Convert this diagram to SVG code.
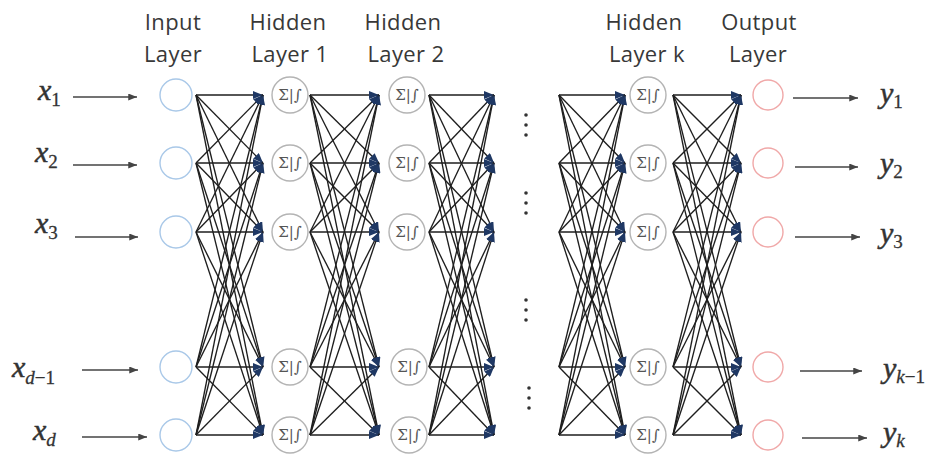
<svg xmlns="http://www.w3.org/2000/svg" width="938" height="456" viewBox="0 0 938 456">
<style>
.h{font-family:"Open Sans","Liberation Sans",sans-serif;font-size:22px;letter-spacing:0.4px;fill:#383838;text-anchor:middle}
.m{font-family:"Liberation Serif","DejaVu Serif",serif;font-style:italic;font-size:30px;fill:#333;stroke:#333;stroke-width:0.5}
.s{font-size:19px;stroke-width:0.3}
.n{font-style:normal}
.in{fill:#fff;stroke:#a9c8e8;stroke-width:1.4}
.out{fill:#fff;stroke:#f0a8a8;stroke-width:1.4}
.hid{fill:#fff;stroke:#b4b4b4;stroke-width:1.4}
.sg{font-family:"DejaVu Serif","Liberation Serif",serif;font-size:15px;fill:#555;text-anchor:middle}
.c line{stroke:#1e1e1e;stroke-width:1.35;marker-end:url(#ah)}
.io{stroke:#444;stroke-width:1.6;marker-end:url(#ia)}
.dot{fill:#333}
</style>
<defs>
<marker id="ah" viewBox="0 0 10 8" refX="10" refY="4" markerWidth="10" markerHeight="8" markerUnits="userSpaceOnUse" orient="auto"><path d="M0,0 L10,4 L0,8 z" fill="#1f3864"/></marker>
<marker id="ia" viewBox="0 0 10 8" refX="10" refY="4" markerWidth="9" markerHeight="7" markerUnits="userSpaceOnUse" orient="auto"><path d="M0,0 L10,4 L0,8 z" fill="#444"/></marker>
</defs>

<g id="headers">
<text class="h" x="173" y="30">Input</text><text class="h" x="173" y="62">Layer</text>
<text class="h" x="288" y="30">Hidden</text><text class="h" x="290" y="62">Layer 1</text>
<text class="h" x="403" y="30">Hidden</text><text class="h" x="406" y="62">Layer 2</text>
<text class="h" x="644" y="30">Hidden</text><text class="h" x="647" y="62">Layer k</text>
<text class="h" x="759" y="30">Output</text><text class="h" x="758" y="62">Layer</text>
</g>

<g id="input-labels">
<text class="m" x="38" y="100">x<tspan class="s n" dy="6">1</tspan></text>
<text class="m" x="35" y="162">x<tspan class="s n" dy="6">2</tspan></text>
<text class="m" x="35" y="233">x<tspan class="s n" dy="6">3</tspan></text>
<text class="m" x="12" y="377">x<tspan class="s" dy="7">d</tspan><tspan class="s n">−1</tspan></text>
<text class="m" x="33" y="440">x<tspan class="s" dy="6">d</tspan></text>
</g>

<g id="output-labels">
<text class="m" x="880" y="103">y<tspan class="s n" dy="5">1</tspan></text>
<text class="m" x="880" y="173">y<tspan class="s n" dy="5">2</tspan></text>
<text class="m" x="880" y="243">y<tspan class="s n" dy="5">3</tspan></text>
<text class="m" x="883" y="378">y<tspan class="s" dy="5">k</tspan><tspan class="s n">−1</tspan></text>
<text class="m" x="883" y="442">y<tspan class="s" dy="5">k</tspan></text>
</g>

<g id="io-arrows">
<line class="io" x1="73" y1="97" x2="137" y2="97"/>
<line class="io" x1="73" y1="165" x2="137" y2="165"/>
<line class="io" x1="75" y1="237" x2="138" y2="237"/>
<line class="io" x1="82" y1="370" x2="138" y2="370"/>
<line class="io" x1="82" y1="437" x2="147" y2="437"/>
<line class="io" x1="793" y1="98" x2="858" y2="98"/>
<line class="io" x1="795" y1="167" x2="858" y2="167"/>
<line class="io" x1="795" y1="237" x2="860" y2="237"/>
<line class="io" x1="800" y1="371" x2="862" y2="371"/>
<line class="io" x1="802" y1="438" x2="867" y2="438"/>
</g>

<g id="connectors" class="c">
<line x1="196" y1="95" x2="263" y2="95"/><line x1="196" y1="95" x2="263" y2="163"/><line x1="196" y1="95" x2="263" y2="232"/><line x1="196" y1="95" x2="263" y2="367"/><line x1="196" y1="95" x2="263" y2="435"/>
<line x1="196" y1="163" x2="263" y2="95"/><line x1="196" y1="163" x2="263" y2="163"/><line x1="196" y1="163" x2="263" y2="232"/><line x1="196" y1="163" x2="263" y2="367"/><line x1="196" y1="163" x2="263" y2="435"/>
<line x1="196" y1="232" x2="263" y2="95"/><line x1="196" y1="232" x2="263" y2="163"/><line x1="196" y1="232" x2="263" y2="232"/><line x1="196" y1="232" x2="263" y2="367"/><line x1="196" y1="232" x2="263" y2="435"/>
<line x1="196" y1="367" x2="263" y2="95"/><line x1="196" y1="367" x2="263" y2="163"/><line x1="196" y1="367" x2="263" y2="232"/><line x1="196" y1="367" x2="263" y2="367"/><line x1="196" y1="367" x2="263" y2="435"/>
<line x1="196" y1="435" x2="263" y2="95"/><line x1="196" y1="435" x2="263" y2="163"/><line x1="196" y1="435" x2="263" y2="232"/><line x1="196" y1="435" x2="263" y2="367"/><line x1="196" y1="435" x2="263" y2="435"/>

<line x1="310" y1="95" x2="379" y2="95"/><line x1="310" y1="95" x2="379" y2="163"/><line x1="310" y1="95" x2="379" y2="232"/><line x1="310" y1="95" x2="379" y2="367"/><line x1="310" y1="95" x2="379" y2="435"/>
<line x1="310" y1="163" x2="379" y2="95"/><line x1="310" y1="163" x2="379" y2="163"/><line x1="310" y1="163" x2="379" y2="232"/><line x1="310" y1="163" x2="379" y2="367"/><line x1="310" y1="163" x2="379" y2="435"/>
<line x1="310" y1="232" x2="379" y2="95"/><line x1="310" y1="232" x2="379" y2="163"/><line x1="310" y1="232" x2="379" y2="232"/><line x1="310" y1="232" x2="379" y2="367"/><line x1="310" y1="232" x2="379" y2="435"/>
<line x1="310" y1="367" x2="379" y2="95"/><line x1="310" y1="367" x2="379" y2="163"/><line x1="310" y1="367" x2="379" y2="232"/><line x1="310" y1="367" x2="379" y2="367"/><line x1="310" y1="367" x2="379" y2="435"/>
<line x1="310" y1="435" x2="379" y2="95"/><line x1="310" y1="435" x2="379" y2="163"/><line x1="310" y1="435" x2="379" y2="232"/><line x1="310" y1="435" x2="379" y2="367"/><line x1="310" y1="435" x2="379" y2="435"/>

<line x1="429" y1="95" x2="494" y2="95"/><line x1="429" y1="95" x2="494" y2="163"/><line x1="429" y1="95" x2="494" y2="232"/><line x1="429" y1="95" x2="494" y2="367"/><line x1="429" y1="95" x2="494" y2="435"/>
<line x1="429" y1="163" x2="494" y2="95"/><line x1="429" y1="163" x2="494" y2="163"/><line x1="429" y1="163" x2="494" y2="232"/><line x1="429" y1="163" x2="494" y2="367"/><line x1="429" y1="163" x2="494" y2="435"/>
<line x1="429" y1="232" x2="494" y2="95"/><line x1="429" y1="232" x2="494" y2="163"/><line x1="429" y1="232" x2="494" y2="232"/><line x1="429" y1="232" x2="494" y2="367"/><line x1="429" y1="232" x2="494" y2="435"/>
<line x1="429" y1="367" x2="494" y2="95"/><line x1="429" y1="367" x2="494" y2="163"/><line x1="429" y1="367" x2="494" y2="232"/><line x1="429" y1="367" x2="494" y2="367"/><line x1="429" y1="367" x2="494" y2="435"/>
<line x1="429" y1="435" x2="494" y2="95"/><line x1="429" y1="435" x2="494" y2="163"/><line x1="429" y1="435" x2="494" y2="232"/><line x1="429" y1="435" x2="494" y2="367"/><line x1="429" y1="435" x2="494" y2="435"/>

<line x1="559" y1="95" x2="625" y2="95"/><line x1="559" y1="95" x2="625" y2="163"/><line x1="559" y1="95" x2="625" y2="232"/><line x1="559" y1="95" x2="625" y2="367"/><line x1="559" y1="95" x2="625" y2="435"/>
<line x1="559" y1="163" x2="625" y2="95"/><line x1="559" y1="163" x2="625" y2="163"/><line x1="559" y1="163" x2="625" y2="232"/><line x1="559" y1="163" x2="625" y2="367"/><line x1="559" y1="163" x2="625" y2="435"/>
<line x1="559" y1="232" x2="625" y2="95"/><line x1="559" y1="232" x2="625" y2="163"/><line x1="559" y1="232" x2="625" y2="232"/><line x1="559" y1="232" x2="625" y2="367"/><line x1="559" y1="232" x2="625" y2="435"/>
<line x1="559" y1="367" x2="625" y2="95"/><line x1="559" y1="367" x2="625" y2="163"/><line x1="559" y1="367" x2="625" y2="232"/><line x1="559" y1="367" x2="625" y2="367"/><line x1="559" y1="367" x2="625" y2="435"/>
<line x1="559" y1="435" x2="625" y2="95"/><line x1="559" y1="435" x2="625" y2="163"/><line x1="559" y1="435" x2="625" y2="232"/><line x1="559" y1="435" x2="625" y2="367"/><line x1="559" y1="435" x2="625" y2="435"/>

<line x1="673" y1="95" x2="741" y2="95"/><line x1="673" y1="95" x2="741" y2="163"/><line x1="673" y1="95" x2="741" y2="232"/><line x1="673" y1="95" x2="741" y2="367"/><line x1="673" y1="95" x2="741" y2="435"/>
<line x1="673" y1="163" x2="741" y2="95"/><line x1="673" y1="163" x2="741" y2="163"/><line x1="673" y1="163" x2="741" y2="232"/><line x1="673" y1="163" x2="741" y2="367"/><line x1="673" y1="163" x2="741" y2="435"/>
<line x1="673" y1="232" x2="741" y2="95"/><line x1="673" y1="232" x2="741" y2="163"/><line x1="673" y1="232" x2="741" y2="232"/><line x1="673" y1="232" x2="741" y2="367"/><line x1="673" y1="232" x2="741" y2="435"/>
<line x1="673" y1="367" x2="741" y2="95"/><line x1="673" y1="367" x2="741" y2="163"/><line x1="673" y1="367" x2="741" y2="232"/><line x1="673" y1="367" x2="741" y2="367"/><line x1="673" y1="367" x2="741" y2="435"/>
<line x1="673" y1="435" x2="741" y2="95"/><line x1="673" y1="435" x2="741" y2="163"/><line x1="673" y1="435" x2="741" y2="232"/><line x1="673" y1="435" x2="741" y2="367"/><line x1="673" y1="435" x2="741" y2="435"/>
</g>

<g id="input-layer">
<g id="in1"><circle class="in" cx="176" cy="95" r="16"/></g>
<g id="in2"><circle class="in" cx="176" cy="163" r="16"/></g>
<g id="in3"><circle class="in" cx="176" cy="232" r="16"/></g>
<g id="in4"><circle class="in" cx="176" cy="367" r="16"/></g>
<g id="in5"><circle class="in" cx="176" cy="435" r="16"/></g>
</g>

<g id="hidden-1">
<g id="h1n1"><circle class="hid" cx="290" cy="95" r="18"/><text class="sg" x="290" y="100">Σ|∫</text></g>
<g id="h1n2"><circle class="hid" cx="290" cy="163" r="18"/><text class="sg" x="290" y="168">Σ|∫</text></g>
<g id="h1n3"><circle class="hid" cx="290" cy="232" r="18"/><text class="sg" x="290" y="237">Σ|∫</text></g>
<g id="h1n4"><circle class="hid" cx="290" cy="367" r="18"/><text class="sg" x="290" y="372">Σ|∫</text></g>
<g id="h1n5"><circle class="hid" cx="290" cy="435" r="18"/><text class="sg" x="290" y="440">Σ|∫</text></g>
</g>

<g id="hidden-2">
<g id="h2n1"><circle class="hid" cx="407" cy="95" r="18"/><text class="sg" x="407" y="100">Σ|∫</text></g>
<g id="h2n2"><circle class="hid" cx="407" cy="163" r="18"/><text class="sg" x="407" y="168">Σ|∫</text></g>
<g id="h2n3"><circle class="hid" cx="407" cy="232" r="18"/><text class="sg" x="407" y="237">Σ|∫</text></g>
<g id="h2n4"><circle class="hid" cx="409" cy="367" r="18"/><text class="sg" x="409" y="372">Σ|∫</text></g>
<g id="h2n5"><circle class="hid" cx="409" cy="435" r="18"/><text class="sg" x="409" y="440">Σ|∫</text></g>
</g>

<g id="hidden-k">
<g id="hkn1"><circle class="hid" cx="648" cy="95" r="18"/><text class="sg" x="648" y="100">Σ|∫</text></g>
<g id="hkn2"><circle class="hid" cx="648" cy="163" r="18"/><text class="sg" x="648" y="168">Σ|∫</text></g>
<g id="hkn3"><circle class="hid" cx="648" cy="232" r="18"/><text class="sg" x="648" y="237">Σ|∫</text></g>
<g id="hkn4"><circle class="hid" cx="648" cy="367" r="18"/><text class="sg" x="648" y="372">Σ|∫</text></g>
<g id="hkn5"><circle class="hid" cx="648" cy="435" r="18"/><text class="sg" x="648" y="440">Σ|∫</text></g>
</g>

<g id="output-layer">
<g id="out1"><circle class="out" cx="768" cy="95" r="15"/></g>
<g id="out2"><circle class="out" cx="768" cy="163" r="15"/></g>
<g id="out3"><circle class="out" cx="768" cy="232" r="15"/></g>
<g id="out4"><circle class="out" cx="768" cy="367" r="15"/></g>
<g id="out5"><circle class="out" cx="768" cy="435" r="15"/></g>
</g>

<g id="ellipsis">
<circle class="dot" cx="526" cy="115" r="1.8"/><circle class="dot" cx="526" cy="125" r="1.8"/><circle class="dot" cx="526" cy="135" r="1.8"/>
<circle class="dot" cx="526" cy="193" r="1.8"/><circle class="dot" cx="526" cy="203" r="1.8"/><circle class="dot" cx="526" cy="213" r="1.8"/>
<circle class="dot" cx="526" cy="300" r="1.8"/><circle class="dot" cx="526" cy="310" r="1.8"/><circle class="dot" cx="526" cy="320" r="1.8"/>
<circle class="dot" cx="529" cy="388" r="1.8"/><circle class="dot" cx="529" cy="398" r="1.8"/><circle class="dot" cx="529" cy="408" r="1.8"/>
</g>
</svg>
